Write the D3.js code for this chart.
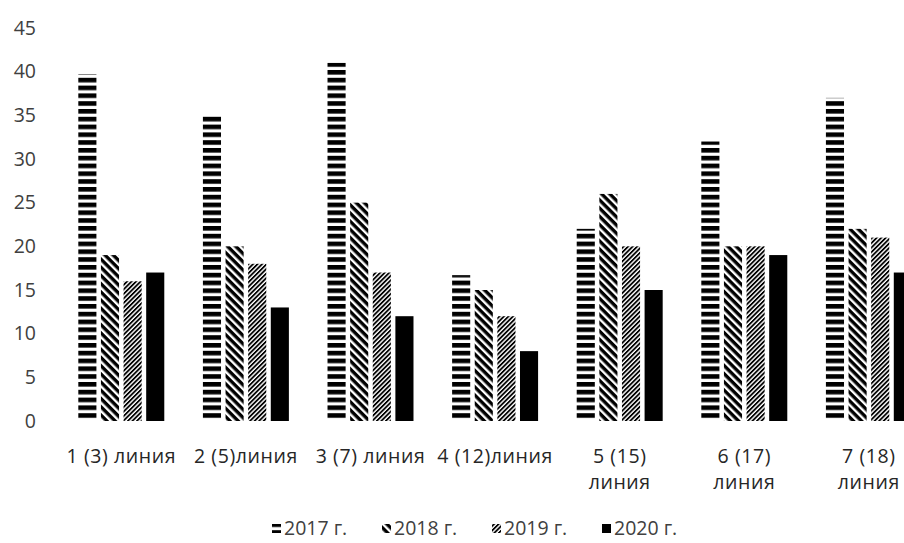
<!DOCTYPE html>
<html><head><meta charset="utf-8">
<script src="https://cdn.jsdelivr.net/npm/d3@7"></script>
<style>
html,body{margin:0;padding:0;background:#fff;overflow:hidden;}
svg{display:block;}
text{font-family:"Open Sans",sans-serif;}
</style></head>
<body>
<div id="chart"></div>
<script>
const categories = [["1 (3) линия"], ["2 (5)линия"], ["3 (7) линия"], ["4 (12)линия"], ["5 (15)", "линия"], ["6 (17)", "линия"], ["7 (18)", "линия"]];
const seriesNames = ["2017 г.", "2018 г.", "2019 г.", "2020 г."];
const v2017 = [39.7, 35, 41, 16.7, 22, 32, 37];
const v2018 = [19, 20, 25, 15, 26, 20, 22];
const v2019 = [16, 18, 17, 12, 20, 20, 21];
const v2020 = [17, 13, 12, 8, 15, 19, 17];
const yTicks = [0, 5, 10, 15, 20, 25, 30, 35, 40, 45];

const series = [v2017, v2018, v2019, v2020];
const W = 904, H = 543;
const svg = d3.select("#chart").append("svg").attr("width", W).attr("height", H);
const defs = svg.append("defs");

// patterns
function hatch(id, angle, period, thick, offY) {
  const p = defs.append("pattern").attr("id", id).attr("patternUnits", "userSpaceOnUse")
    .attr("width", period).attr("height", period).attr("y", offY || 0);
  if (angle) p.attr("patternTransform", `rotate(${angle})`);
  p.append("rect").attr("width", period).attr("height", period).attr("fill", "#fff");
  p.append("rect").attr("width", period).attr("height", thick).attr("fill", "#000");
}
hatch("p0", 0, 7.8, 4.6, 421);
hatch("p1", 45, 5.8, 3.4);
hatch("p2", -45, 3.2, 1.8);
const fills = ["url(#p0)", "url(#p1)", "url(#p2)", "#000"];

const plotLeft = 59, step = 124.6;
const x = d3.scaleBand().domain(d3.range(categories.length))
  .range([plotLeft, plotLeft + step * categories.length]).paddingInner(0.31).paddingOuter(0.155);
const xi = d3.scaleBand().domain(d3.range(series.length)).range([0, x.bandwidth()]).paddingInner(0.2);
const y = d3.scaleLinear().domain([0, 45]).range([421, 28]);

const FS = 19.5;
// y axis labels
const yAxis = d3.axisLeft(y).tickValues(yTicks).tickSize(0).tickPadding(0);
const gy = svg.append("g").attr("transform", "translate(36,0)").call(yAxis);
gy.select(".domain").remove();
gy.selectAll("text").attr("font-size", FS).attr("fill", "#404040").attr("font-family", "Open Sans, sans-serif");

// bars
series.forEach((vals, si) => {
  svg.append("g").selectAll("rect").data(vals).join("rect")
    .attr("x", (d, i) => x(i) + xi(si))
    .attr("y", d => y(d))
    .attr("width", xi.bandwidth())
    .attr("height", d => y(0) - y(d))
    .attr("fill", fills[si]);
});

// category labels
const gx = svg.append("g");
categories.forEach((lines, i) => {
  const cx = x(i) + x.bandwidth() / 2;
  const t = gx.append("text").attr("text-anchor", "middle").attr("font-size", FS)
    .attr("letter-spacing", 0.6).attr("fill", "#262626").attr("x", cx).attr("y", 463);
  lines.forEach((ln, k) => t.append("tspan").attr("x", cx).attr("dy", k ? 26 : 0).text(ln));
});

// legend
const legend = svg.append("g");
let lx = 272;
seriesNames.forEach((n, si) => {
  const g = legend.append("g").attr("transform", `translate(${lx},0)`);
  g.append("rect").attr("x", 0).attr("y", 524).attr("width", 9).attr("height", 9).attr("fill", fills[si]);
  g.append("text").attr("x", 12).attr("y", 535).attr("font-size", FS).attr("fill", "#404040").text(n);
  lx += 110;
});
</script>
</body></html>
